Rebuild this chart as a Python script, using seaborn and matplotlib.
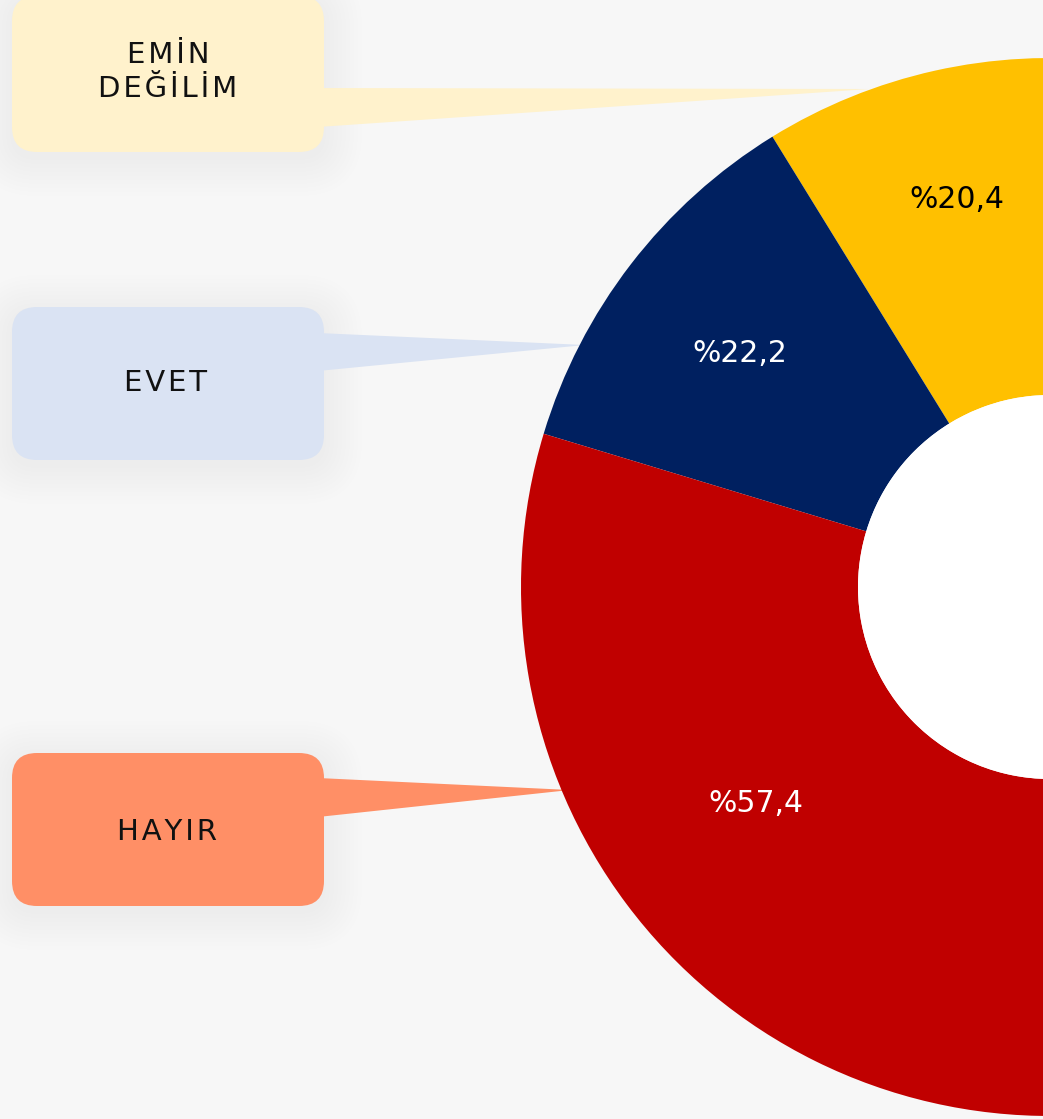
import matplotlib
matplotlib.use("Agg")
import matplotlib.pyplot as plt
import seaborn as sns
import numpy as np
from matplotlib.patches import FancyBboxPatch, Polygon, Circle

# ---- data ----
categories = ["EMİN\nDEĞİLİM", "EVET", "HAYIR"]
values = [20.4, 22.2, 57.4]
pct_labels = ["%20,4", "%22,2", "%57,4"]
colors = ["#FFC000", "#002060", "#C00000"]
box_colors = ["#FFF2CC", "#DAE3F3", "#FF8F66"]
pct_text_colors = ["black", "white", "white"]

sns.set_theme(style="white")
plt.rcParams['font.family'] = ['DejaVu Sans']

W, H = 1043, 1119
fig = plt.figure(figsize=(W / 100, H / 100), dpi=100)
bg = "#f7f7f7"
fig.patch.set_facecolor(bg)
ax = fig.add_axes([0, 0, 1, 1])
ax.set_facecolor(bg)

def Y(y):
    return H - y

# visible arc spans ~187 degrees; the rest of the ring is off-canvas / empty
span = 187.0
filler = sum(values) * (360.0 / span - 1.0)
cx, cy, R, r_in = 1050, Y(587), 529, 192

# tails (drawn beneath the ring)
tails = [
    [(318, 88), (318, 127), (870, 89)],
    [(318, 333), (318, 371), (585, 345)],
    [(318, 778), (318, 817), (570, 790)],
]
for pts, c in zip(tails, box_colors):
    ax.add_patch(Polygon([(x, Y(y)) for x, y in pts], closed=True,
                         facecolor=c, edgecolor="none", zorder=2))

wedges, _ = ax.pie(values + [filler], colors=colors + ["none"],
                   startangle=83.5, counterclock=True, center=(cx, cy),
                   radius=R, wedgeprops=dict(width=R - r_in, linewidth=0),
                   normalize=True)
for w in wedges:
    w.set_zorder(3)
ax.add_patch(Circle((cx, cy), r_in, facecolor="white", edgecolor="none", zorder=3))

# percentage labels
label_r = [398, 384, 360]
for w, txt, rr, tc in zip(wedges[:3], pct_labels, label_r, pct_text_colors):
    mid = np.deg2rad((w.theta1 + w.theta2) / 2)
    ax.text(cx + rr * np.cos(mid) - 6, cy + rr * np.sin(mid) - 1, txt,
            ha="center", va="center", fontsize=21.5, color=tc, zorder=5)

# boxes
boxes = [(12, -4, 312, 156), (12, 307, 312, 153), (12, 753, 312, 153)]
text_pos = [(168, 72), (165, 383), (167, 832)]
for (x, y, bw, bh), c, cat, (tx, ty) in zip(boxes, box_colors, categories, text_pos):
    # soft shadow
    for i in range(10):
        pad = 2 + i * 4
        ax.add_patch(FancyBboxPatch((x + 25, Y(y + bh) + 25 - 6), bw - 50, bh - 50,
                                    boxstyle=f"round,pad={25 + pad},rounding_size={25 + pad}",
                                    facecolor="black", edgecolor="none",
                                    alpha=0.0035, zorder=1))
    ax.add_patch(FancyBboxPatch((x + 25, Y(y + bh) + 25), bw - 50, bh - 50,
                                boxstyle="round,pad=25,rounding_size=25",
                                facecolor=c, edgecolor="none", zorder=4))
    spaced = "\n".join("\u200a".join(line) for line in cat.split("\n"))
    ax.text(tx, Y(ty), spaced, ha="center", va="center", fontsize=21,
            color="#111111", linespacing=1.3, zorder=5)

ax.set_xlim(0, W)
ax.set_ylim(0, H)
ax.set_aspect("equal")
ax.axis("off")

fig.savefig("out.png", dpi=100, facecolor=fig.get_facecolor())
